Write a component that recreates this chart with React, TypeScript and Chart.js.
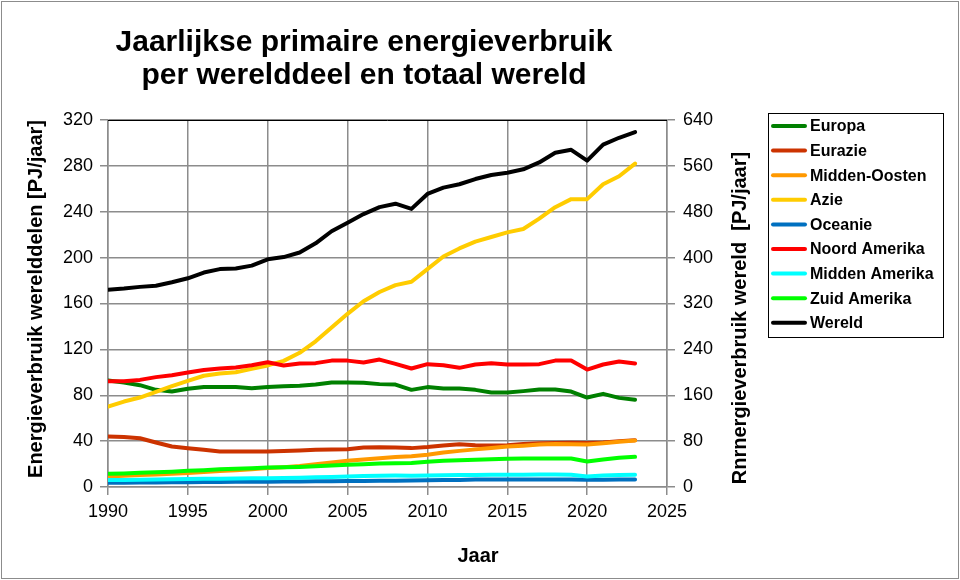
import React, { useEffect, useRef } from "react";
import { Chart, registerables } from "chart.js";

Chart.register(...registerables);

const years = [1990, 1991, 1992, 1993, 1994, 1995, 1996, 1997, 1998, 1999, 2000, 2001, 2002, 2003, 2004, 2005, 2006, 2007, 2008, 2009, 2010, 2011, 2012, 2013, 2014, 2015, 2016, 2017, 2018, 2019, 2020, 2021, 2022, 2023];

const europa = [92.8, 91.1, 88.8, 84.7, 83.2, 85.6, 87.1, 87.3, 87.1, 86.2, 87.1, 87.9, 88.2, 89.3, 91.1, 91.1, 91, 89.7, 89.3, 84.7, 87.1, 85.9, 85.9, 84.7, 82.4, 82.4, 83.6, 85, 85, 83.2, 78, 81.2, 77.7, 76];
const eurazie = [44, 43.5, 42.5, 38.8, 35.3, 33.8, 32.4, 31, 31, 31, 31, 31.3, 31.8, 32.4, 32.6, 33, 34.4, 34.7, 34.4, 33.9, 34.8, 36.2, 37.2, 36.5, 36.2, 36.5, 37.4, 38.1, 38.4, 38.6, 38.3, 38.8, 40, 40.8];
const middenOosten = [9.2, 9.8, 10.5, 11, 11.6, 12.1, 13, 13.9, 14.6, 15.4, 16.5, 17.3, 18.4, 19.9, 21.3, 22.8, 24, 25, 26.1, 26.9, 28.1, 30, 31.5, 32.8, 34, 35.3, 36, 37, 37.4, 37.2, 37, 38.2, 39.4, 40.5];
const azie = [70, 74.5, 78, 83, 88, 92.5, 97, 99, 100, 103, 106, 110, 117, 127, 139, 151, 162, 170, 176, 179, 190, 201, 208, 214, 218, 222, 225, 234, 244, 251, 251, 264, 271, 282];
const oceanie = [3.7, 3.8, 3.9, 4, 4.1, 4.2, 4.3, 4.4, 4.5, 4.5, 4.5, 4.7, 4.9, 5, 5.1, 5.2, 5.3, 5.4, 5.4, 5.7, 5.8, 6, 6.2, 6.5, 6.6, 6.6, 6.6, 6.5, 6.5, 6.5, 6.3, 6.4, 6.5, 6.5];
const noordAmerika = [92.3, 92.3, 93.4, 95.8, 97.5, 99.8, 102.1, 103.3, 104.2, 106.2, 108.8, 105.9, 107.6, 108, 110.2, 110.2, 108.5, 111.1, 107.4, 103.3, 107.1, 106.2, 103.9, 106.8, 108, 106.8, 106.8, 107.1, 110.2, 110.2, 102.4, 106.8, 109.4, 107.6];
const middenAmerika = [6, 6.1, 6.3, 6.5, 6.8, 6.9, 7.1, 7.3, 7.5, 7.6, 7.7, 7.9, 8.1, 8.4, 8.8, 9.2, 9.5, 9.8, 10, 9.9, 10.1, 10.3, 10.4, 10.5, 10.6, 10.6, 10.7, 10.8, 10.8, 10.6, 9.2, 10, 10.5, 10.6];
const zuidAmerika = [11.5, 11.8, 12.4, 12.8, 13.4, 14.1, 14.7, 15.4, 15.9, 16.3, 17, 17.2, 17.5, 18, 18.7, 19.3, 19.9, 20.4, 20.8, 21, 22, 22.8, 23.4, 23.8, 24.3, 24.6, 24.8, 24.9, 24.8, 24.8, 22.2, 23.9, 25.6, 26.3];
const wereld = [344, 346, 349, 351, 357, 364, 374, 380, 381, 386, 397, 401, 409, 425, 446, 461, 476, 488, 494, 485, 511, 522, 528, 537, 544, 548, 554, 566, 583, 588, 569, 597, 609, 619];

const seriesNames = ["Europa", "Eurazie", "Midden-Oosten", "Azie", "Oceanie", "Noord Amerika", "Midden Amerika", "Zuid Amerika", "Wereld"];
const seriesValues = [europa, eurazie, middenOosten, azie, oceanie, noordAmerika, middenAmerika, zuidAmerika, wereld];
const seriesColors = ["#008000", "#CC3300", "#FF9900", "#FFCC00", "#0070C0", "#FF0000", "#00FFFF", "#00FF00", "#000000"];
const seriesAxis = ["y", "y", "y", "y", "y", "y", "y", "y", "y1"];

const titleLines = ["Jaarlijkse primaire energieverbruik", "per werelddeel en totaal wereld"];
const xTitle = "Jaar";
const yTitle = "Energieverbruik werelddelen [PJ/jaar]";
const y1Title = "Rnrnergieverbruik wereld  [PJ/jaar]";

const FONT = "'Liberation Sans', Arial, sans-serif";

const decorPlugin = {
  id: "decor",
  beforeDraw(chart: any) {
    const ctx = chart.ctx;
    ctx.save();
    ctx.fillStyle = "#ffffff";
    ctx.fillRect(0, 0, chart.width, chart.height);
    ctx.restore();
  },
  afterDraw(chart: any) {
    const ctx = chart.ctx;
    const ca = chart.chartArea;
    ctx.save();
    // outer border
    ctx.strokeStyle = "#8c8c8c";
    ctx.lineWidth = 1;
    ctx.strokeRect(1.5, 1.5, chart.width - 3, chart.height - 3);
    // top plot border
    ctx.strokeStyle = "#000000";
    ctx.lineWidth = 1;
    ctx.beginPath();
    ctx.moveTo(ca.left, ca.top + 0.5);
    ctx.lineTo(ca.right, ca.top + 0.5);
    ctx.stroke();
    // title
    ctx.fillStyle = "#000";
    ctx.textAlign = "center";
    ctx.textBaseline = "middle";
    ctx.font = `bold 30px ${FONT}`;
    ctx.fillText(titleLines[0], 364, 43);
    ctx.fillText(titleLines[1], 364, 76);
    // x title
    ctx.font = `bold 20px ${FONT}`;
    ctx.fillText(xTitle, 478, 556);
    // y titles
    ctx.save();
    ctx.translate(36, 299);
    ctx.rotate(-Math.PI / 2);
    ctx.fillText(yTitle, 0, 0);
    ctx.restore();
    ctx.save();
    ctx.translate(740, 318);
    ctx.rotate(-Math.PI / 2);
    ctx.fillText(y1Title, 0, 0);
    ctx.restore();
    // legend
    const lx = 768, ly = 113, lw = 175, lh = 224;
    ctx.strokeStyle = "#000";
    ctx.lineWidth = 1;
    ctx.strokeRect(lx + 0.5, ly + 0.5, lw, lh);
    ctx.font = `bold 16px ${FONT}`;
    ctx.textAlign = "left";
    seriesNames.forEach((name, i) => {
      const cy = 126 + i * 24.6;
      ctx.strokeStyle = seriesColors[i];
      ctx.lineWidth = 4;
      ctx.lineCap = "round";
      ctx.beginPath();
      ctx.moveTo(773, cy);
      ctx.lineTo(805, cy);
      ctx.stroke();
      ctx.fillStyle = "#000";
      ctx.fillText(name, 810, cy + 1);
    });
    ctx.restore();
  },
};

export default function App() {
  const canvasRef = useRef<HTMLCanvasElement | null>(null);

  useEffect(() => {
    if (!canvasRef.current) return;
    const datasets = seriesNames.map((name, i) => ({
      label: name,
      data: years.map((yr, j) => ({ x: yr, y: seriesValues[i][j] })),
      borderColor: seriesColors[i],
      backgroundColor: seriesColors[i],
      borderWidth: 4,
      pointRadius: 0,
      tension: 0,
      fill: false,
      borderCapStyle: "round" as const,
      borderJoinStyle: "round" as const,
      yAxisID: seriesAxis[i],
      order: seriesNames.length - i,
    }));
    const tickFont = { family: FONT, size: 18 };
    const chart = new Chart(canvasRef.current, {
      type: "line",
      data: { datasets },
      plugins: [decorPlugin],
      options: {
        animation: false,
        responsive: false,
        maintainAspectRatio: false,
        layout: { padding: { top: 120, left: 0, right: 0, bottom: 0 } },
        plugins: { legend: { display: false }, title: { display: false }, tooltip: { enabled: false } },
        scales: {
          x: {
            type: "linear",
            min: 1990,
            max: 2025,
            ticks: { stepSize: 5, color: "#000", font: tickFont, padding: 6, maxRotation: 0, callback: (v: any) => String(v) },
            grid: { color: "#8c8c8c", lineWidth: 1.5, tickLength: 8 },
            border: { color: "#8c8c8c", width: 1.5 },
            afterFit: (s: any) => { s.height = 93; },
          },
          y: {
            position: "left",
            min: 0,
            max: 320,
            ticks: { stepSize: 40, color: "#000", font: tickFont, padding: 7 },
            grid: { color: "#8c8c8c", lineWidth: 1.5, tickLength: 8 },
            border: { color: "#8c8c8c", width: 1.5 },
            afterFit: (s: any) => { s.width = 108; },
          },
          y1: {
            position: "right",
            min: 0,
            max: 640,
            ticks: { stepSize: 80, color: "#000", font: tickFont, padding: 8 },
            grid: { color: "#8c8c8c", lineWidth: 1.5, tickLength: 8, drawOnChartArea: false },
            border: { color: "#8c8c8c", width: 1.5 },
            afterFit: (s: any) => { s.width = 293; },
          },
        },
      },
    });
    return () => chart.destroy();
  }, []);

  return (
    <div style={{ position: "absolute", left: 0, top: 0, width: 960, height: 580 }}>
      <canvas ref={canvasRef} width={960} height={580} style={{ width: 960, height: 580 }} />
    </div>
  );
}
